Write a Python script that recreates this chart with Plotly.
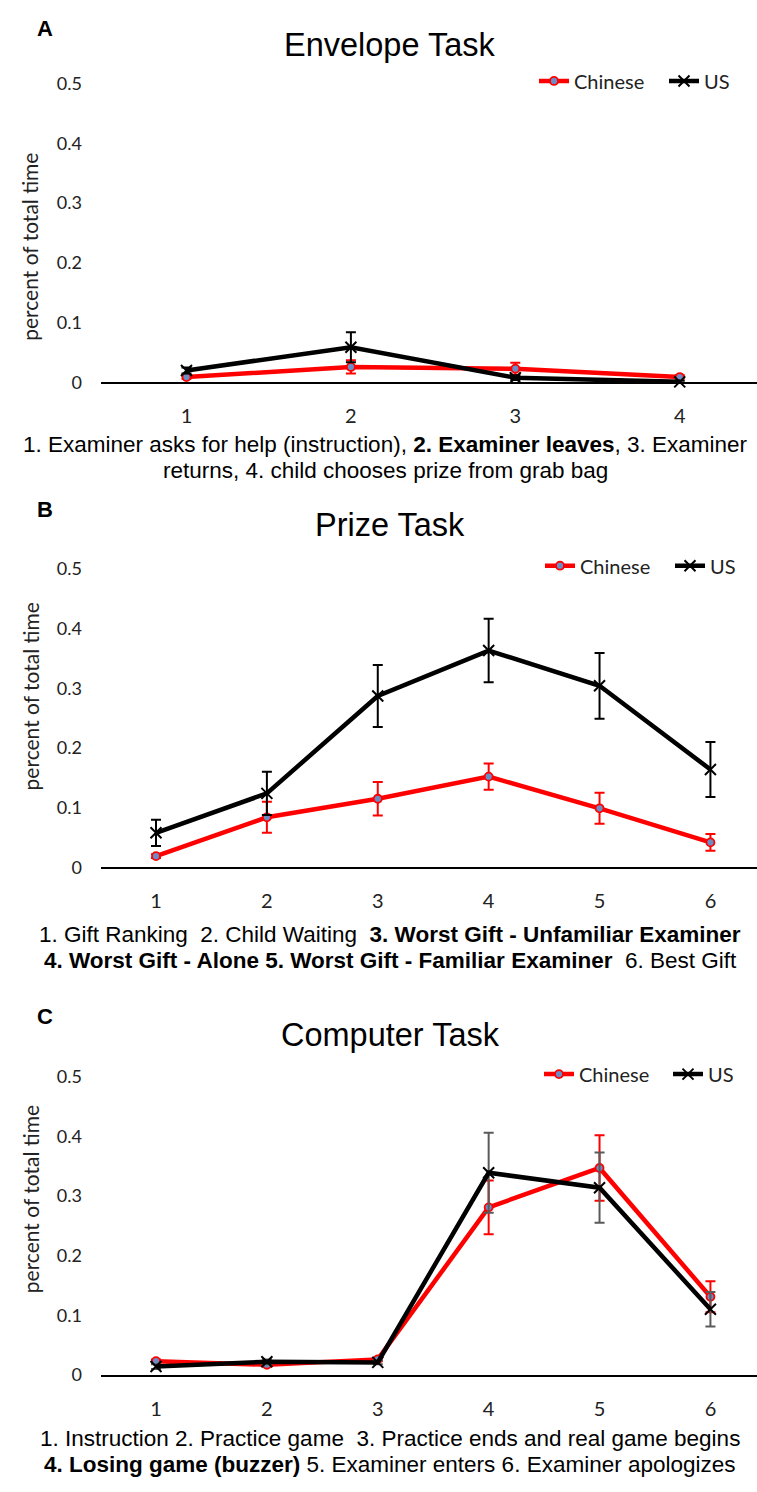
import plotly.graph_objects as go

# ---------------- data ----------------
envelope_steps = [1, 2, 3, 4]
envelope_chinese = [0.009, 0.026, 0.023, 0.009]
envelope_chinese_err = [0.003, 0.011, 0.010, 0.003]
envelope_us = [0.020, 0.059, 0.008, 0.001]
envelope_us_err = [0.005, 0.025, 0.004, 0.002]

prize_steps = [1, 2, 3, 4, 5, 6]
prize_chinese = [0.019, 0.084, 0.115, 0.152, 0.099, 0.042]
prize_chinese_err = [0.003, 0.026, 0.028, 0.022, 0.026, 0.014]
prize_us = [0.058, 0.124, 0.287, 0.363, 0.304, 0.164]
prize_us_err = [0.022, 0.036, 0.052, 0.053, 0.055, 0.046]

computer_steps = [1, 2, 3, 4, 5, 6]
computer_chinese = [0.023, 0.017, 0.026, 0.281, 0.347, 0.131]
computer_chinese_err = [0.003, 0.003, 0.003, 0.045, 0.055, 0.026]
computer_us = [0.014, 0.022, 0.021, 0.339, 0.314, 0.110]
computer_us_err = [0.004, 0.004, 0.003, 0.067, 0.059, 0.029]

y_ticks = [0, 0.1, 0.2, 0.3, 0.4, 0.5]
y_tick_text = ["0", "0.1", "0.2", "0.3", "0.4", "0.5"]

panel_titles = ["Envelope Task", "Prize Task", "Computer Task"]
panel_letters = ["A", "B", "C"]
captions = [
    ["1. Examiner asks for help (instruction), <b>2. Examiner leaves</b>, 3. Examiner",
     "returns, 4. child chooses prize from grab bag"],
    ["1. Gift Ranking\u00a0 2. Child Waiting\u00a0 <b>3. Worst Gift - Unfamiliar Examiner</b>",
     "<b>4. Worst Gift - Alone 5. Worst Gift - Familiar Examiner</b>\u00a0 6. Best Gift"],
    ["1. Instruction 2. Practice game\u00a0 3. Practice ends and real game begins",
     "<b>4. Losing game (buzzer)</b> 5. Examiner enters 6. Examiner apologizes"],
]

# ---------------- layout helpers ----------------
W, H = 757, 1492
RED = "#ff0000"
BLACK = "#000000"
GREY = "#5a5a5a"
MARKER_FILL = "#6b8cc4"
TICK_FONT = "Lato"
TEXT_FONT = "Liberation Sans"


def px(x):
    """x in pixels -> paper fraction"""
    return x / W


def py(y):
    """y in pixels (from top) -> paper fraction"""
    return 1 - y / H


# pixel anchors for each panel
panels = [
    dict(y0=376.0, y5=72.7, xr=[0.48, 4.47], title_y=33, letter_y=17,
         cap_y=[439, 465], cap_x=386, leg_y=70, leg_x=[534, 664], ytitle_dy=14),
    dict(y0=868.3, y5=565.0, xr=[0.504, 6.42], title_y=521, letter_y=505,
         cap_y=[936, 963], cap_x=390, leg_y=562, leg_x=[540, 670], ytitle_dy=-22),
    dict(y0=1383.3, y5=1080.7, xr=[0.504, 6.42], title_y=1038, letter_y=1020,
         cap_y=[1448, 1474], cap_x=390, leg_y=1078, leg_x=[539, 668], ytitle_dy=-27),
]

series = [
    (envelope_steps, envelope_chinese, envelope_chinese_err, envelope_us, envelope_us_err, BLACK),
    (prize_steps, prize_chinese, prize_chinese_err, prize_us, prize_us_err, BLACK),
    (computer_steps, computer_chinese, computer_chinese_err, computer_us, computer_us_err, GREY),
]

fig = go.Figure()
annotations = []
layout_parts = {}

for i, (p, s) in enumerate(zip(panels, series)):
    steps, cn, cn_err, us, us_err, us_err_color = s
    n = "" if i == 0 else str(i + 1)
    xa, ya = "x" + n, "y" + n
    # one legend box per series so each entry can be placed on its own
    leg_cn = "legend" + ("" if i == 0 else str(2 * i + 1))
    leg_us = "legend" + str(2 * i + 2)

    fig.add_trace(go.Scatter(
        x=steps, y=cn, name="Chinese", mode="lines+markers",
        line=dict(color=RED, width=4.5),
        marker=dict(symbol="circle", size=8, color=MARKER_FILL,
                    line=dict(color=RED, width=1.8)),
        error_y=dict(type="data", array=cn_err, color=RED, thickness=2, width=5),
        xaxis=xa, yaxis=ya, legend=leg_cn, cliponaxis=False,
    ))
    fig.add_trace(go.Scatter(
        x=steps, y=us, name="US", mode="lines+markers",
        line=dict(color=BLACK, width=4.5),
        marker=dict(symbol="x-thin", size=11, color=BLACK,
                    line=dict(color=BLACK, width=2)),
        error_y=dict(type="data", array=us_err, color=us_err_color, thickness=2, width=5),
        xaxis=xa, yaxis=ya, legend=leg_us, cliponaxis=False,
    ))

    layout_parts["xaxis" + n] = dict(
        domain=[px(101), 1], range=p["xr"], anchor=ya,
        tickvals=steps, ticktext=[str(v) for v in steps],
        showline=True, linecolor=BLACK, linewidth=2,
        showgrid=False, zeroline=False, ticks="",
        tickfont=dict(family=TICK_FONT, size=20, color="#222222"),
        ticklabelstandoff=15,
    )
    layout_parts["yaxis" + n] = dict(
        domain=[py(p["y0"]), py(p["y5"])], range=[0, 0.5], anchor=xa,
        tickvals=y_ticks, ticktext=y_tick_text,
        showline=False, showgrid=False, zeroline=False, ticks="",
        tickfont=dict(family=TICK_FONT, size=18, color="#222222"),
        ticklabelstandoff=18,
    )
    for leg, lx in zip([leg_cn, leg_us], p["leg_x"]):
        layout_parts[leg] = dict(
            orientation="h", x=px(lx), xanchor="left",
            y=py(p["leg_y"]), yanchor="middle",
            font=dict(family=TICK_FONT, size=20, color="#222222"),
            bgcolor="rgba(0,0,0,0)", itemwidth=30,
        )

    # panel title
    annotations.append(dict(
        text=panel_titles[i], x=px(390), y=py(p["title_y"]),
        xref="paper", yref="paper", showarrow=False,
        xanchor="center", yanchor="middle",
        font=dict(family=TEXT_FONT, size=32.5, color=BLACK),
    ))
    # panel letter
    annotations.append(dict(
        text="<b>" + panel_letters[i] + "</b>", x=px(45), y=py(p["letter_y"]),
        xref="paper", yref="paper", showarrow=False,
        xanchor="center", yanchor="middle",
        font=dict(family=TEXT_FONT, size=22, color=BLACK),
    ))
    # y-axis title
    annotations.append(dict(
        text="percent of total time", x=px(30),
        y=py((p["y0"] + p["y5"]) / 2 + p["ytitle_dy"]),
        xref="paper", yref="paper", showarrow=False, textangle=-90,
        xanchor="center", yanchor="middle",
        font=dict(family=TICK_FONT, size=21, color="#222222"),
    ))
    # caption lines
    for line, cy in zip(captions[i], p["cap_y"]):
        annotations.append(dict(
            text=line, x=px(p["cap_x"]), y=py(cy),
            xref="paper", yref="paper", showarrow=False,
            xanchor="center", yanchor="middle",
            font=dict(family=TEXT_FONT, size=22.5, color=BLACK),
        ))

fig.update_layout(
    width=W, height=H, autosize=False,
    margin=dict(l=0, r=0, t=0, b=0),
    paper_bgcolor="white", plot_bgcolor="white",
    annotations=annotations,
    showlegend=True,
    **layout_parts,
)

fig.write_html("out.html")
